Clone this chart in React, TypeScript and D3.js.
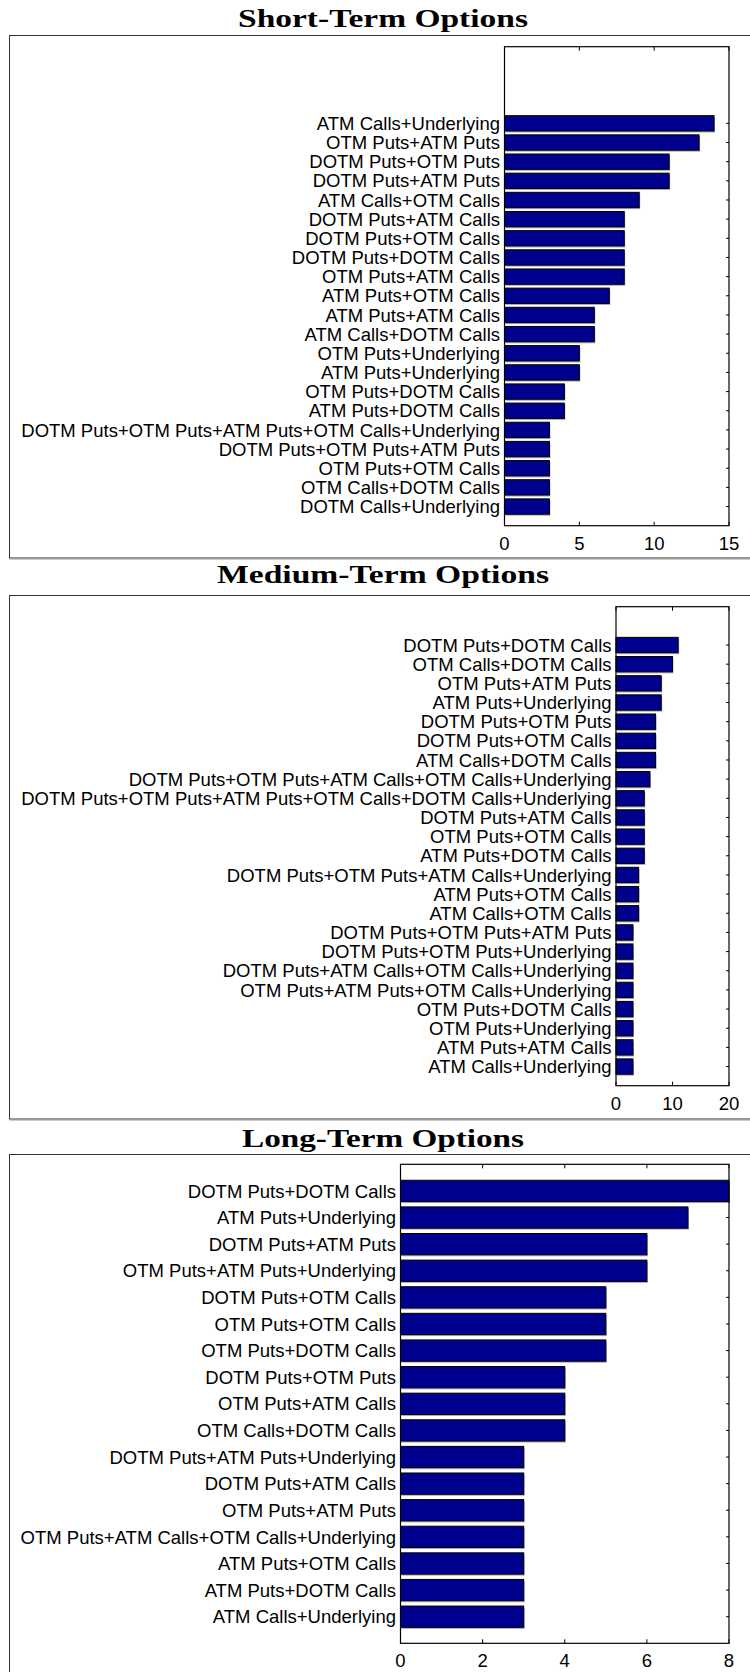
import React from "react";
import * as d3 from "d3";

// Short-term option combinations, listed top to bottom
const shortLabels = [
  "ATM Calls+Underlying",
  "OTM Puts+ATM Puts",
  "DOTM Puts+OTM Puts",
  "DOTM Puts+ATM Puts",
  "ATM Calls+OTM Calls",
  "DOTM Puts+ATM Calls",
  "DOTM Puts+OTM Calls",
  "DOTM Puts+DOTM Calls",
  "OTM Puts+ATM Calls",
  "ATM Puts+OTM Calls",
  "ATM Puts+ATM Calls",
  "ATM Calls+DOTM Calls",
  "OTM Puts+Underlying",
  "ATM Puts+Underlying",
  "OTM Puts+DOTM Calls",
  "ATM Puts+DOTM Calls",
  "DOTM Puts+OTM Puts+ATM Puts+OTM Calls+Underlying",
  "DOTM Puts+OTM Puts+ATM Puts",
  "OTM Puts+OTM Calls",
  "OTM Calls+DOTM Calls",
  "DOTM Calls+Underlying",
];
const shortValues = [14, 13, 11, 11, 9, 8, 8, 8, 8, 7, 6, 6, 5, 5, 4, 4, 3, 3, 3, 3, 3];
const shortTicks = [0, 5, 10, 15];

// Medium-term option combinations
const mediumLabels = [
  "DOTM Puts+DOTM Calls",
  "OTM Calls+DOTM Calls",
  "OTM Puts+ATM Puts",
  "ATM Puts+Underlying",
  "DOTM Puts+OTM Puts",
  "DOTM Puts+OTM Calls",
  "ATM Calls+DOTM Calls",
  "DOTM Puts+OTM Puts+ATM Calls+OTM Calls+Underlying",
  "DOTM Puts+OTM Puts+ATM Puts+OTM Calls+DOTM Calls+Underlying",
  "DOTM Puts+ATM Calls",
  "OTM Puts+OTM Calls",
  "ATM Puts+DOTM Calls",
  "DOTM Puts+OTM Puts+ATM Calls+Underlying",
  "ATM Puts+OTM Calls",
  "ATM Calls+OTM Calls",
  "DOTM Puts+OTM Puts+ATM Puts",
  "DOTM Puts+OTM Puts+Underlying",
  "DOTM Puts+ATM Calls+OTM Calls+Underlying",
  "OTM Puts+ATM Puts+OTM Calls+Underlying",
  "OTM Puts+DOTM Calls",
  "OTM Puts+Underlying",
  "ATM Puts+ATM Calls",
  "ATM Calls+Underlying",
];
const mediumValues = [11, 10, 8, 8, 7, 7, 7, 6, 5, 5, 5, 5, 4, 4, 4, 3, 3, 3, 3, 3, 3, 3, 3];
const mediumTicks = [0, 10, 20];

// Long-term option combinations
const longLabels = [
  "DOTM Puts+DOTM Calls",
  "ATM Puts+Underlying",
  "DOTM Puts+ATM Puts",
  "OTM Puts+ATM Puts+Underlying",
  "DOTM Puts+OTM Calls",
  "OTM Puts+OTM Calls",
  "OTM Puts+DOTM Calls",
  "DOTM Puts+OTM Puts",
  "OTM Puts+ATM Calls",
  "OTM Calls+DOTM Calls",
  "DOTM Puts+ATM Puts+Underlying",
  "DOTM Puts+ATM Calls",
  "OTM Puts+ATM Puts",
  "OTM Puts+ATM Calls+OTM Calls+Underlying",
  "ATM Puts+OTM Calls",
  "ATM Puts+DOTM Calls",
  "ATM Calls+Underlying",
];
const longValues = [8, 7, 6, 6, 5, 5, 5, 4, 4, 4, 3, 3, 3, 3, 3, 3, 3];
const longTicks = [0, 2, 4, 6, 8];

const BAR_FILL = "#00008f";
const LABEL_FONT = "'Liberation Sans', Arial, Helvetica, sans-serif";
const TITLE_FONT = "'Liberation Serif', 'Times New Roman', serif";
const AXIS_RIGHT = 729;
const FRAME_LEFT = 9.5;
const TITLE_X = 383;

type PanelSpec = {
  title: string;
  titleWidth: number;
  labels: string[];
  values: number[];
  ticks: number[];
  slots: number;
  titleY: number;
  frameTop: number;
  frameBottom: number;
  axisLeft: number;
  axisTop: number;
  axisBottom: number;
};

const panels: PanelSpec[] = [
  {
    title: "Short-Term Options",
    titleWidth: 290,
    labels: shortLabels,
    values: shortValues,
    ticks: shortTicks,
    slots: 25,
    titleY: 26.7,
    frameTop: 35.5,
    frameBottom: 558,
    axisLeft: 504.5,
    axisTop: 46.7,
    axisBottom: 525.7,
  },
  {
    title: "Medium-Term Options",
    titleWidth: 332,
    labels: mediumLabels,
    values: mediumValues,
    ticks: mediumTicks,
    slots: 25,
    titleY: 583,
    frameTop: 595.5,
    frameBottom: 1119,
    axisLeft: 616,
    axisTop: 606.7,
    axisBottom: 1085.7,
  },
  {
    title: "Long-Term Options",
    titleWidth: 282,
    labels: longLabels,
    values: longValues,
    ticks: longTicks,
    slots: 18,
    titleY: 1147,
    frameTop: 1154.5,
    frameBottom: 1700,
    axisLeft: 400.5,
    axisTop: 1164.3,
    axisBottom: 1643.3,
  },
];

function Panel({ p }: { p: PanelSpec }) {
  const n = p.values.length;
  const xMax = p.ticks[p.ticks.length - 1];
  const x = d3.scaleLinear().domain([0, xMax]).range([p.axisLeft, AXIS_RIGHT]);
  const y = d3.scaleLinear().domain([0, p.slots]).range([p.axisBottom, p.axisTop]);
  const band = Math.abs(y(0) - y(1));
  const barH = band * 0.8;
  const pos = (i: number) => y(n - i);
  const tickLen = 4;
  const yTickLen = 3;

  return (
    <g>
      {/* panel title */}
      <text
        x={TITLE_X}
        y={p.titleY}
        textAnchor="middle"
        fontFamily={TITLE_FONT}
        fontWeight="bold"
        fontSize={25}
        textLength={p.titleWidth}
        lengthAdjust="spacingAndGlyphs"
        fill="#000"
      >
        {p.title}
      </text>

      {/* surrounding frame */}
      <rect
        x={FRAME_LEFT}
        y={p.frameTop}
        width={780}
        height={p.frameBottom - p.frameTop}
        fill="#fff"
        stroke="#333"
        strokeWidth={1}
      />
      <line
        x1={FRAME_LEFT}
        x2={780}
        y1={p.frameBottom + 1}
        y2={p.frameBottom + 1}
        stroke="#9a9a9a"
        strokeWidth={1.2}
      />

      {/* axes background */}
      <rect
        x={p.axisLeft}
        y={p.axisTop}
        width={AXIS_RIGHT - p.axisLeft}
        height={p.axisBottom - p.axisTop}
        fill="#fff"
      />

      {/* right-side category ticks */}
      {p.values.map((_, i) => (
        <line
          key={"yt" + i}
          x1={AXIS_RIGHT}
          x2={AXIS_RIGHT - yTickLen}
          y1={pos(i)}
          y2={pos(i)}
          stroke="#000"
          strokeWidth={1}
        />
      ))}

      {/* top and bottom value ticks */}
      {p.ticks.map((t) => (
        <g key={"xt" + t}>
          <line x1={x(t)} x2={x(t)} y1={p.axisBottom} y2={p.axisBottom - tickLen} stroke="#000" strokeWidth={1} />
          <line x1={x(t)} x2={x(t)} y1={p.axisTop} y2={p.axisTop + tickLen} stroke="#000" strokeWidth={1} />
        </g>
      ))}

      {/* bars with their soft edge */}
      {p.values.map((v, i) => (
        <g key={"b" + i}>
          <rect
            x={x(0) + 1}
            y={pos(i) - barH / 2 + 1.5}
            width={x(v) - x(0)}
            height={barH}
            fill="#a8a8a8"
          />
          <rect
            x={x(0)}
            y={pos(i) - barH / 2}
            width={x(v) - x(0)}
            height={barH}
            fill={BAR_FILL}
            stroke="#000"
            strokeWidth={1}
          />
        </g>
      ))}

      {/* axes box */}
      <rect
        x={p.axisLeft}
        y={p.axisTop}
        width={AXIS_RIGHT - p.axisLeft}
        height={p.axisBottom - p.axisTop}
        fill="none"
        stroke="#000"
        strokeWidth={1.2}
      />

      {/* category labels */}
      {p.labels.map((l, i) => (
        <text
          key={"l" + i}
          x={p.axisLeft - 4.5}
          y={pos(i)}
          dy="0.36em"
          textAnchor="end"
          fontFamily={LABEL_FONT}
          fontSize={18.5}
          fill="#000"
        >
          {l}
        </text>
      ))}

      {/* value tick labels */}
      {p.ticks.map((t) => (
        <text
          key={"tl" + t}
          x={x(t)}
          y={p.axisBottom + 24}
          textAnchor="middle"
          fontFamily={LABEL_FONT}
          fontSize={18.5}
          fill="#000"
        >
          {t}
        </text>
      ))}
    </g>
  );
}

export default function App() {
  return (
    <svg
      width={750}
      height={1672}
      viewBox="0 0 750 1672"
      style={{ position: "absolute", left: 0, top: 0, background: "#fff" }}
    >
      <rect x={0} y={0} width={750} height={1672} fill="#fff" />
      {panels.map((p) => (
        <Panel key={p.title} p={p} />
      ))}
    </svg>
  );
}
